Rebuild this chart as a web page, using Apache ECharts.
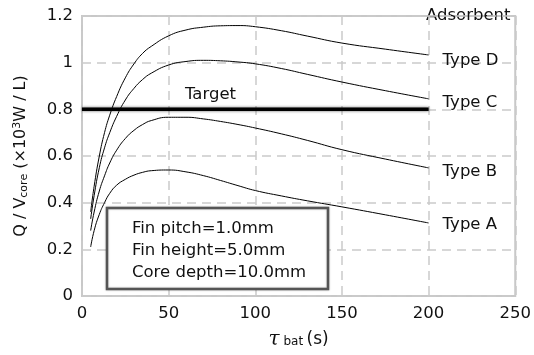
<!DOCTYPE html>
<html>
<head>
<meta charset="utf-8">
<script src="https://cdn.jsdelivr.net/npm/echarts@6/dist/echarts.min.js"></script>
<style>html,body{margin:0;padding:0;background:#fff}#c{width:534px;height:355px}</style>
</head>
<body>
<div id="c"></div>
<script>
var tau = [5, 7, 10, 13, 16, 20, 25, 30, 35, 40, 50, 60, 70, 80, 90, 100, 115, 130, 150, 175, 200];
var typeD = [0.36, 0.47, 0.60, 0.70, 0.775, 0.855, 0.935, 0.995, 1.04, 1.07, 1.115, 1.14, 1.152, 1.158, 1.159, 1.154, 1.137, 1.114, 1.084, 1.058, 1.033];
var typeC = [0.33, 0.43, 0.55, 0.635, 0.70, 0.77, 0.84, 0.89, 0.928, 0.955, 0.99, 1.005, 1.01, 1.008, 1.003, 0.995, 0.975, 0.95, 0.917, 0.88, 0.845];
var typeB = [0.28, 0.36, 0.45, 0.515, 0.57, 0.625, 0.675, 0.71, 0.735, 0.752, 0.766, 0.766, 0.759, 0.748, 0.735, 0.72, 0.695, 0.667, 0.627, 0.587, 0.549];
var typeA = [0.21, 0.28, 0.35, 0.40, 0.44, 0.475, 0.50, 0.518, 0.53, 0.537, 0.54, 0.532, 0.516, 0.495, 0.473, 0.452, 0.429, 0.408, 0.382, 0.348, 0.313];
var targetX = [0, 200];
var targetY = [0.8, 0.8];
var seriesNames = ['Type D', 'Type C', 'Type B', 'Type A'];
var boxLines = ['Fin pitch=1.0mm', 'Fin height=5.0mm', 'Core depth=10.0mm'];

function pairs(xs, ys) { return xs.map(function (x, i) { return [x, ys[i]]; }); }

var FONT = 'DejaVu Sans, sans-serif';
var FS = 16.5;
var chart = echarts.init(document.getElementById('c'), null, { renderer: 'canvas' });

function curve(name, ys, dy) {
  return {
    name: name, type: 'line', data: pairs(tau, ys), smooth: 0.5, showSymbol: false, symbol: 'none',
    lineStyle: { color: '#000', width: 1 }, z: 3,
    endLabel: { show: true, formatter: '{a}', color: '#111', fontSize: FS, fontFamily: FONT, offset: [6, dy] }
  };
}

chart.setOption({
  animation: false,
  grid: { left: 82, right: 14, top: 16, bottom: 59, show: true, borderColor: '#c8c8c8', borderWidth: 2 },
  xAxis: {
    type: 'value', min: 0, max: 250, interval: 50,
    axisLine: { show: false }, axisTick: { show: false },
    axisLabel: { color: '#111', fontSize: FS, fontFamily: FONT, margin: 9 },
    splitLine: { show: true, lineStyle: { color: '#cacaca', width: 1.5, type: [9, 6] } },
    name: '{t|τ}{s| bat} {n|(s)}', nameLocation: 'middle', nameGap: 34,
    nameTextStyle: { rich: {
      t: { fontFamily: 'DejaVu Serif, serif', fontStyle: 'italic', fontSize: 20, color: '#111' },
      s: { fontFamily: FONT, fontSize: 12, color: '#111', padding: [4,0,0,0] },
      n: { fontFamily: FONT, fontSize: 17, color: '#111' }
    } }
  },
  yAxis: {
    type: 'value', min: 0, max: 1.2, interval: 0.2,
    axisLine: { show: false }, axisTick: { show: false },
    axisLabel: { color: '#111', fontSize: FS, fontFamily: FONT, margin: 9 },
    splitLine: { show: true, lineStyle: { color: '#cacaca', width: 1.5, type: [9, 6] } },
    name: '{n|Q / V}{s|core}{n| (×10}{p|3}{n|W / L)}', nameLocation: 'middle', nameGap: 52,
    nameTextStyle: { rich: {
      n: { fontFamily: FONT, fontSize: 16, color: '#111' },
      s: { fontFamily: FONT, fontSize: 11, color: '#111', padding: [6,0,0,0] },
      p: { fontFamily: FONT, fontSize: 11, color: '#111', padding: [0,0,7,0] }
    } }
  },
  series: [
    curve(seriesNames[0], typeD, 6),
    curve(seriesNames[1], typeC, 4),
    curve(seriesNames[2], typeB, 4),
    curve(seriesNames[3], typeA, 2),
    {
      name: 'Target', type: 'line', data: pairs(targetX, targetY), showSymbol: false, symbol: 'none', z: 2,
      lineStyle: { color: '#000', width: 3.5, shadowBlur: 3, shadowColor: 'rgba(0,0,0,0.6)' }
    }
  ],
  graphic: [
    { type: 'text', left: 185, top: 86, style: { text: 'Target', fontSize: FS, fontFamily: FONT, fill: '#111' } },
    { type: 'text', left: 426, top: 7, style: { text: 'Adsorbent', fontSize: FS, fontFamily: FONT, fill: '#111' } },
    { type: 'rect', shape: { x: 107, y: 208, width: 221, height: 81 }, style: { fill: '#fff', stroke: '#555', lineWidth: 2.5, shadowBlur: 2, shadowColor: 'rgba(0,0,0,0.3)' }, z: 10 },
    { type: 'text', left: 132, top: 218, z: 11, style: { text: boxLines.join('\n'), fontSize: FS, lineHeight: 22, fontFamily: FONT, fill: '#111' } }
  ]
});
</script>
</body>
</html>
